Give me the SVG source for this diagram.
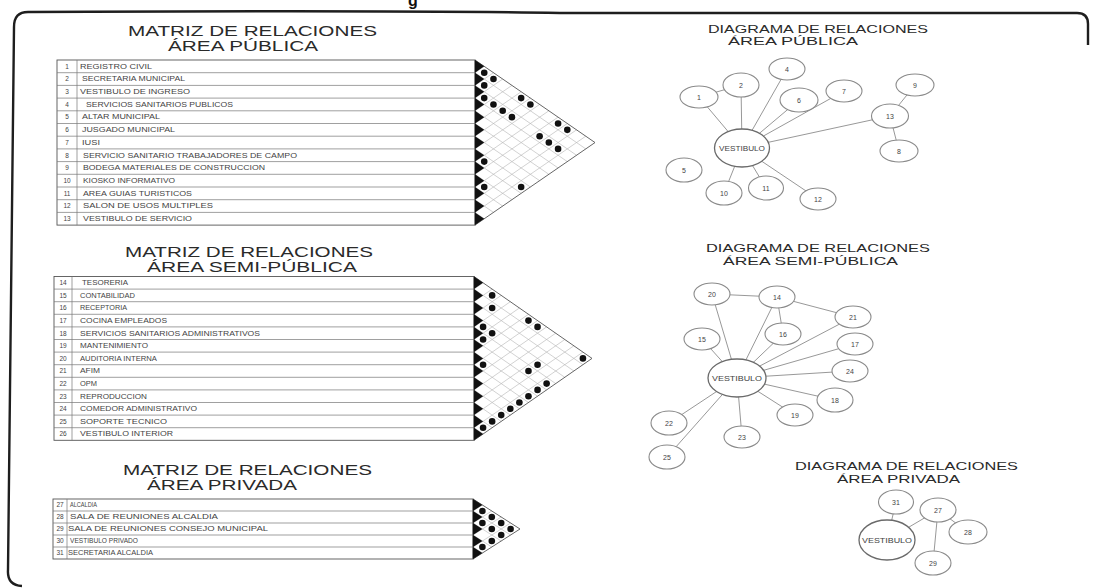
<svg xmlns="http://www.w3.org/2000/svg" width="1093" height="588" viewBox="0 0 1093 588">
<style>
.t{font-family:"Liberation Sans",Arial,sans-serif}
.ttl{font-size:15px;fill:#2a2a2a}
.dt{font-size:10.5px;fill:#2a2a2a}
.row{font-size:6.5px;fill:#444}
.num{font-size:6.5px;fill:#444;text-anchor:middle}
.tbl{fill:none;stroke:#555;stroke-width:0.9}
.rl{stroke:#777;stroke-width:0.7;fill:none}
.grid{stroke:#b4b4b4;stroke-width:0.6;fill:none}
.tri{fill:none;stroke:#555;stroke-width:0.9}
.blk{fill:#111}
.dot{fill:#111}
.nd{fill:#fff;stroke:#8a8a8a;stroke-width:1.1}
.vn{fill:#fff;stroke:#6a6a6a;stroke-width:1.3}
.nl{font-size:7px;fill:#444;text-anchor:middle}
.ed{stroke:#8c8c8c;stroke-width:0.9}
</style>
<rect width="1093" height="588" fill="#fff"/>
<!-- frame -->
<path d="M1088 45 L1088 24 Q1088 13 1077 13 L560 13 Q400 10 28 12 Q14 12 14 27 L8 570 Q7 585 22 586" fill="none" stroke="#1e1e1e" stroke-width="2.4"/>
<text class="t" x="408" y="6" font-size="16" font-weight="bold" fill="#111">g</text>

<!-- ===== MATRIZ AREA PUBLICA ===== -->
<g id="matriz-publica">
<text class="t ttl" x="128" y="36" textLength="249" lengthAdjust="spacingAndGlyphs">MATRIZ DE RELACIONES</text>
<text class="t ttl" x="168" y="51" textLength="150" lengthAdjust="spacingAndGlyphs">ÁREA PÚBLICA</text>
<rect class="tbl" x="57" y="60" width="418" height="165.1"/>
<path class="rl" d="M57 72.7H475M57 85.4H475M57 98.1H475M57 110.8H475M57 123.5H475M57 136.2H475M57 148.9H475M57 161.6H475M57 174.3H475M57 187H475M57 199.7H475M57 212.4H475M77 60V225.1"/>
<g class="t num">
<text x="67" y="68.6">1</text><text x="67" y="81.3">2</text><text x="67" y="94">3</text><text x="67" y="106.7">4</text><text x="67" y="119.4">5</text><text x="67" y="132.1">6</text><text x="67" y="144.8">7</text><text x="67" y="157.5">8</text><text x="67" y="170.2">9</text><text x="67" y="182.9">10</text><text x="67" y="195.6">11</text><text x="67" y="208.3">12</text><text x="67" y="221">13</text>
</g>
<g class="t row">
<text x="80" y="68.6" textLength="72" lengthAdjust="spacingAndGlyphs">REGISTRO CIVIL</text>
<text x="82" y="81.3" textLength="103" lengthAdjust="spacingAndGlyphs">SECRETARIA MUNICIPAL</text>
<text x="80" y="94" textLength="110" lengthAdjust="spacingAndGlyphs">VESTIBULO DE INGRESO</text>
<text x="86" y="106.7" textLength="147" lengthAdjust="spacingAndGlyphs">SERVICIOS SANITARIOS PUBLICOS</text>
<text x="82" y="119.4" textLength="78" lengthAdjust="spacingAndGlyphs">ALTAR MUNICIPAL</text>
<text x="82" y="132.1" textLength="93" lengthAdjust="spacingAndGlyphs">JUSGADO MUNICIPAL</text>
<text x="82" y="144.8" textLength="18" lengthAdjust="spacingAndGlyphs">IUSI</text>
<text x="83" y="157.5" textLength="214" lengthAdjust="spacingAndGlyphs">SERVICIO SANITARIO TRABAJADORES DE CAMPO</text>
<text x="83" y="170.2" textLength="182" lengthAdjust="spacingAndGlyphs">BODEGA MATERIALES DE CONSTRUCCION</text>
<text x="83" y="182.9" textLength="92" lengthAdjust="spacingAndGlyphs">KIOSKO INFORMATIVO</text>
<text x="83" y="195.6" textLength="109" lengthAdjust="spacingAndGlyphs">AREA GUIAS TURISTICOS</text>
<text x="83" y="208.3" textLength="130" lengthAdjust="spacingAndGlyphs">SALON DE USOS MULTIPLES</text>
<text x="83" y="221" textLength="109" lengthAdjust="spacingAndGlyphs">VESTIBULO DE SERVICIO</text>
</g>
<path class="grid" d="M475 72.7L585.77 148.9M475 85.4L576.54 155.25M475 98.1L567.31 161.6M475 110.8L558.08 167.95M475 123.5L548.85 174.3M475 136.2L539.62 180.65M475 148.9L530.38 187M475 161.6L521.15 193.35M475 174.3L511.92 199.7M475 187L502.69 206.05M475 199.7L493.46 212.4M475 212.4L484.23 218.75M475 72.7L484.23 66.35M475 85.4L493.46 72.7M475 98.1L502.69 79.05M475 110.8L511.92 85.4M475 123.5L521.15 91.75M475 136.2L530.38 98.1M475 148.9L539.62 104.45M475 161.6L548.85 110.8M475 174.3L558.08 117.15M475 187L567.31 123.5M475 199.7L576.54 129.85M475 212.4L585.77 136.2"/>
<path class="tri" d="M475 60L595 142.55L475 225.1Z"/>
<path class="blk" d="M475 60l9.23 6.35l-9.23 6.35zm0 12.7l9.23 6.35l-9.23 6.35zm0 12.7l9.23 6.35l-9.23 6.35zm0 12.7l9.23 6.35l-9.23 6.35zm0 12.7l9.23 6.35l-9.23 6.35zm0 12.7l9.23 6.35l-9.23 6.35zm0 12.7l9.23 6.35l-9.23 6.35zm0 12.7l9.23 6.35l-9.23 6.35zm0 12.7l9.23 6.35l-9.23 6.35zm0 12.7l9.23 6.35l-9.23 6.35zm0 12.7l9.23 6.35l-9.23 6.35zm0 12.7l9.23 6.35l-9.23 6.35zm0 12.7l9.23 6.35l-9.23 6.35z"/>
<g class="dot">
<circle cx="484.23" cy="72.7" r="3.3"/><circle cx="493.46" cy="79.05" r="3.3"/><circle cx="484.23" cy="85.4" r="3.3"/><circle cx="484.23" cy="98.1" r="3.3"/><circle cx="493.46" cy="104.45" r="3.3"/><circle cx="521.15" cy="98.1" r="3.3"/><circle cx="530.38" cy="104.45" r="3.3"/><circle cx="502.69" cy="110.8" r="3.3"/><circle cx="511.92" cy="117.15" r="3.3"/><circle cx="558.08" cy="123.5" r="3.3"/><circle cx="567.31" cy="129.85" r="3.3"/><circle cx="539.62" cy="136.2" r="3.3"/><circle cx="548.85" cy="142.55" r="3.3"/><circle cx="558.08" cy="148.9" r="3.3"/><circle cx="484.23" cy="161.6" r="3.3"/><circle cx="484.23" cy="187" r="3.3"/><circle cx="521.15" cy="187" r="3.3"/>
</g>
</g>

<!-- ===== MATRIZ AREA SEMI-PUBLICA ===== -->
<g id="matriz-semipublica">
<text class="t ttl" x="125" y="257" textLength="248" lengthAdjust="spacingAndGlyphs">MATRIZ DE RELACIONES</text>
<text class="t ttl" x="147" y="272" textLength="210" lengthAdjust="spacingAndGlyphs">ÁREA SEMI-PÚBLICA</text>
<rect class="tbl" x="54" y="276.5" width="420" height="163.8"/>
<path class="rl" d="M54 289.1H474M54 301.7H474M54 314.3H474M54 326.9H474M54 339.5H474M54 352.1H474M54 364.7H474M54 377.3H474M54 389.9H474M54 402.5H474M54 415.1H474M54 427.7H474M72 276.5V440.3"/>
<g class="t num">
<text x="63" y="285.1">14</text><text x="63" y="297.7">15</text><text x="63" y="310.3">16</text><text x="63" y="322.9">17</text><text x="63" y="335.5">18</text><text x="63" y="348.1">19</text><text x="63" y="360.7">20</text><text x="63" y="373.3">21</text><text x="63" y="385.9">22</text><text x="63" y="398.5">23</text><text x="63" y="411.1">24</text><text x="63" y="423.7">25</text><text x="63" y="436.3">26</text>
</g>
<g class="t row">
<text x="82" y="285.1" textLength="46" lengthAdjust="spacingAndGlyphs">TESORERIA</text>
<text x="80" y="297.7" textLength="55" lengthAdjust="spacingAndGlyphs">CONTABILIDAD</text>
<text x="80" y="310.3" textLength="47" lengthAdjust="spacingAndGlyphs">RECEPTORIA</text>
<text x="80" y="322.9" textLength="87" lengthAdjust="spacingAndGlyphs">COCINA EMPLEADOS</text>
<text x="80" y="335.5" textLength="180" lengthAdjust="spacingAndGlyphs">SERVICIOS SANITARIOS ADMINISTRATIVOS</text>
<text x="80" y="348.1" textLength="68" lengthAdjust="spacingAndGlyphs">MANTENIMIENTO</text>
<text x="80" y="360.7" textLength="77" lengthAdjust="spacingAndGlyphs">AUDITORIA INTERNA</text>
<text x="80" y="373.3" textLength="20" lengthAdjust="spacingAndGlyphs">AFIM</text>
<text x="80" y="385.9" textLength="17" lengthAdjust="spacingAndGlyphs">OPM</text>
<text x="80" y="398.5" textLength="67" lengthAdjust="spacingAndGlyphs">REPRODUCCION</text>
<text x="80" y="411.1" textLength="117" lengthAdjust="spacingAndGlyphs">COMEDOR ADMINISTRATIVO</text>
<text x="80" y="423.7" textLength="87" lengthAdjust="spacingAndGlyphs">SOPORTE TECNICO</text>
<text x="80" y="436.3" textLength="93" lengthAdjust="spacingAndGlyphs">VESTIBULO INTERIOR</text>
</g>
<path class="grid" d="M474 289.1L582.92 364.7M474 301.7L573.85 371M474 314.3L564.77 377.3M474 326.9L555.69 383.6M474 339.5L546.62 389.9M474 352.1L537.54 396.2M474 364.7L528.46 402.5M474 377.3L519.38 408.8M474 389.9L510.31 415.1M474 402.5L501.23 421.4M474 415.1L492.15 427.7M474 427.7L483.08 434M474 289.1L483.08 282.8M474 301.7L492.15 289.1M474 314.3L501.23 295.4M474 326.9L510.31 301.7M474 339.5L519.38 308M474 352.1L528.46 314.3M474 364.7L537.54 320.6M474 377.3L546.62 326.9M474 389.9L555.69 333.2M474 402.5L564.77 339.5M474 415.1L573.85 345.8M474 427.7L582.92 352.1"/>
<path class="tri" d="M474 276.5L592 358.4L474 440.3Z"/>
<path class="blk" d="M474 276.5l9.08 6.3l-9.08 6.3zm0 12.6l9.08 6.3l-9.08 6.3zm0 12.6l9.08 6.3l-9.08 6.3zm0 12.6l9.08 6.3l-9.08 6.3zm0 12.6l9.08 6.3l-9.08 6.3zm0 12.6l9.08 6.3l-9.08 6.3zm0 12.6l9.08 6.3l-9.08 6.3zm0 12.6l9.08 6.3l-9.08 6.3zm0 12.6l9.08 6.3l-9.08 6.3zm0 12.6l9.08 6.3l-9.08 6.3zm0 12.6l9.08 6.3l-9.08 6.3zm0 12.6l9.08 6.3l-9.08 6.3zm0 12.6l9.08 6.3l-9.08 6.3z"/>
<g class="dot">
<circle cx="492.15" cy="295.4" r="3.3"/><circle cx="492.15" cy="308" r="3.3"/><circle cx="528.46" cy="320.6" r="3.3"/><circle cx="537.54" cy="326.9" r="3.3"/><circle cx="483.08" cy="326.9" r="3.3"/><circle cx="492.15" cy="333.2" r="3.3"/><circle cx="483.08" cy="339.5" r="3.3"/><circle cx="483.08" cy="364.7" r="3.3"/><circle cx="537.54" cy="364.7" r="3.3"/><circle cx="528.46" cy="371" r="3.3"/><circle cx="582.92" cy="358.4" r="3.3"/><circle cx="546.62" cy="383.6" r="3.3"/><circle cx="537.54" cy="389.9" r="3.3"/><circle cx="528.46" cy="396.2" r="3.3"/><circle cx="519.38" cy="402.5" r="3.3"/><circle cx="510.31" cy="408.8" r="3.3"/><circle cx="501.23" cy="415.1" r="3.3"/><circle cx="492.15" cy="421.4" r="3.3"/><circle cx="483.08" cy="427.7" r="3.3"/>
</g>
</g>

<!-- ===== MATRIZ AREA PRIVADA ===== -->
<g id="matriz-privada">
<text class="t ttl" x="123" y="475" textLength="249" lengthAdjust="spacingAndGlyphs">MATRIZ DE RELACIONES</text>
<text class="t ttl" x="147" y="490" textLength="150" lengthAdjust="spacingAndGlyphs">ÁREA PRIVADA</text>
<rect class="tbl" x="53" y="499" width="420" height="60"/>
<path class="rl" d="M53 511H473M53 523H473M53 535H473M53 547H473M67 499V559"/>
<g class="t num">
<text x="60" y="507.3">27</text><text x="60" y="519.3">28</text><text x="60" y="531.3">29</text><text x="60" y="543.3">30</text><text x="60" y="555.3">31</text>
</g>
<g class="t row">
<text x="70" y="507.3" textLength="27" lengthAdjust="spacingAndGlyphs">ALCALDIA</text>
<text x="70" y="519.3" textLength="148" lengthAdjust="spacingAndGlyphs">SALA DE REUNIONES ALCALDIA</text>
<text x="68" y="531.3" textLength="200" lengthAdjust="spacingAndGlyphs">SALA DE REUNIONES CONSEJO MUNICIPAL</text>
<text x="70" y="543.3" textLength="68" lengthAdjust="spacingAndGlyphs">VESTIBULO PRIVADO</text>
<text x="68" y="555.3" textLength="85" lengthAdjust="spacingAndGlyphs">SECRETARIA ALCALDIA</text>
</g>
<path class="grid" d="M473 511L510.6 535M473 523L501.2 541M473 535L491.8 547M473 547L482.4 553M473 511L482.4 505M473 523L491.8 511M473 535L501.2 517M473 547L510.6 523"/>
<path class="tri" d="M473 499L520 529L473 559Z"/>
<path class="blk" d="M473 499l9.4 6l-9.4 6zm0 12l9.4 6l-9.4 6zm0 12l9.4 6l-9.4 6zm0 12l9.4 6l-9.4 6zm0 12l9.4 6l-9.4 6z"/>
<g class="dot">
<circle cx="482.4" cy="511" r="3.3"/><circle cx="491.8" cy="517" r="3.3"/><circle cx="482.4" cy="523" r="3.3"/><circle cx="501.2" cy="523" r="3.3"/><circle cx="491.8" cy="529" r="3.3"/><circle cx="510.6" cy="529" r="3.3"/><circle cx="501.2" cy="535" r="3.3"/><circle cx="491.8" cy="541" r="3.3"/><circle cx="482.4" cy="547" r="3.3"/>
</g>
</g>

<!-- ===== DIAGRAM TITLES ===== -->
<text class="t dt" x="708" y="33" textLength="220" lengthAdjust="spacingAndGlyphs">DIAGRAMA DE RELACIONES</text>
<text class="t dt" x="728" y="45" textLength="130" lengthAdjust="spacingAndGlyphs">ÁREA PÚBLICA</text>
<text class="t dt" x="706" y="252" textLength="224" lengthAdjust="spacingAndGlyphs">DIAGRAMA DE RELACIONES</text>
<text class="t dt" x="723" y="265" textLength="175" lengthAdjust="spacingAndGlyphs">ÁREA SEMI-PÚBLICA</text>
<text class="t dt" x="795" y="470" textLength="223" lengthAdjust="spacingAndGlyphs">DIAGRAMA DE RELACIONES</text>
<text class="t dt" x="837" y="483" textLength="123" lengthAdjust="spacingAndGlyphs">ÁREA PRIVADA</text>

<!-- ===== CONNECTORS ===== -->
<g id="connectors" class="ed">
<line x1="699" y1="97" x2="742" y2="148"/>
<line x1="699" y1="97" x2="741" y2="85"/>
<line x1="741" y1="85" x2="742" y2="148"/>
<line x1="787" y1="69" x2="742" y2="148"/>
<line x1="799" y1="100" x2="742" y2="148"/>
<line x1="844" y1="91" x2="742" y2="148"/>
<line x1="890" y1="116" x2="742" y2="148"/>
<line x1="890" y1="116" x2="915" y2="85"/>
<line x1="890" y1="116" x2="899" y2="151"/>
<line x1="742" y1="148" x2="724" y2="193"/>
<line x1="742" y1="148" x2="766" y2="188"/>
<line x1="742" y1="148" x2="818" y2="199"/>

<line x1="712" y1="294" x2="777" y2="297"/>
<line x1="712" y1="294" x2="737" y2="378"/>
<line x1="777" y1="297" x2="737" y2="378"/>
<line x1="777" y1="297" x2="783" y2="334"/>
<line x1="777" y1="297" x2="853" y2="317"/>
<line x1="783" y1="334" x2="737" y2="378"/>
<line x1="853" y1="317" x2="737" y2="378"/>
<line x1="855" y1="344" x2="737" y2="378"/>
<line x1="850" y1="371" x2="737" y2="378"/>
<line x1="835" y1="400" x2="737" y2="378"/>
<line x1="795" y1="415" x2="737" y2="378"/>
<line x1="742" y1="437" x2="737" y2="378"/>
<line x1="669" y1="423" x2="737" y2="378"/>
<line x1="667" y1="457" x2="737" y2="378"/>
<line x1="702" y1="339" x2="737" y2="378"/>

<line x1="896" y1="502" x2="887" y2="540"/>
<line x1="938" y1="510" x2="887" y2="540"/>
<line x1="938" y1="510" x2="968" y2="532"/>
<line x1="938" y1="510" x2="933" y2="563"/>
</g>

<!-- ===== NODES: AREA PUBLICA ===== -->
<g id="p-1"><ellipse class="nd" cx="699" cy="97" rx="19" ry="11"/><text class="t nl" x="699" y="99.5">1</text></g>
<g id="p-2"><ellipse class="nd" cx="741" cy="85" rx="18" ry="12"/><text class="t nl" x="741" y="87.5">2</text></g>
<g id="p-4"><ellipse class="nd" cx="787" cy="69" rx="18" ry="11"/><text class="t nl" x="787" y="71.5">4</text></g>
<g id="p-6"><ellipse class="nd" cx="799" cy="100" rx="19" ry="12"/><text class="t nl" x="799" y="102.5">6</text></g>
<g id="p-7"><ellipse class="nd" cx="844" cy="91" rx="18" ry="11"/><text class="t nl" x="844" y="93.5">7</text></g>
<g id="p-9"><ellipse class="nd" cx="915" cy="85" rx="19" ry="11"/><text class="t nl" x="915" y="87.5">9</text></g>
<g id="p-13"><ellipse class="nd" cx="890" cy="116" rx="18.5" ry="12"/><text class="t nl" x="890" y="118.5">13</text></g>
<g id="p-8"><ellipse class="nd" cx="899" cy="151" rx="19" ry="11"/><text class="t nl" x="899" y="153.5">8</text></g>
<g id="p-vestibulo"><ellipse class="vn" cx="742" cy="148" rx="27.5" ry="19"/><text class="t nl" x="742" y="150.5" textLength="46" lengthAdjust="spacingAndGlyphs">VESTIBULO</text></g>
<g id="p-5"><ellipse class="nd" cx="684" cy="170" rx="18" ry="12"/><text class="t nl" x="684" y="172.5">5</text></g>
<g id="p-10"><ellipse class="nd" cx="724" cy="193" rx="18" ry="12"/><text class="t nl" x="724" y="195.5">10</text></g>
<g id="p-11"><ellipse class="nd" cx="766" cy="188" rx="17.5" ry="12"/><text class="t nl" x="766" y="190.5">11</text></g>
<g id="p-12"><ellipse class="nd" cx="818" cy="199" rx="18" ry="11"/><text class="t nl" x="818" y="201.5">12</text></g>

<!-- ===== NODES: AREA SEMI-PUBLICA ===== -->
<g id="s-20"><ellipse class="nd" cx="712" cy="294" rx="18" ry="11"/><text class="t nl" x="712" y="296.5">20</text></g>
<g id="s-14"><ellipse class="nd" cx="777" cy="297" rx="18" ry="11"/><text class="t nl" x="777" y="299.5">14</text></g>
<g id="s-21"><ellipse class="nd" cx="853" cy="317" rx="18" ry="11"/><text class="t nl" x="853" y="319.5">21</text></g>
<g id="s-15"><ellipse class="nd" cx="702" cy="339" rx="18" ry="11"/><text class="t nl" x="702" y="341.5">15</text></g>
<g id="s-16"><ellipse class="nd" cx="783" cy="334" rx="18" ry="11"/><text class="t nl" x="783" y="336.5">16</text></g>
<g id="s-17"><ellipse class="nd" cx="855" cy="344" rx="18" ry="11"/><text class="t nl" x="855" y="346.5">17</text></g>
<g id="s-24"><ellipse class="nd" cx="850" cy="371" rx="18" ry="11"/><text class="t nl" x="850" y="373.5">24</text></g>
<g id="s-vestibulo"><ellipse class="vn" cx="737" cy="378" rx="29" ry="19"/><text class="t nl" x="737" y="380.5" textLength="50" lengthAdjust="spacingAndGlyphs">VESTIBULO</text></g>
<g id="s-18"><ellipse class="nd" cx="835" cy="400" rx="18" ry="12"/><text class="t nl" x="835" y="402.5">18</text></g>
<g id="s-19"><ellipse class="nd" cx="795" cy="415" rx="18" ry="11"/><text class="t nl" x="795" y="417.5">19</text></g>
<g id="s-22"><ellipse class="nd" cx="669" cy="423" rx="18" ry="12"/><text class="t nl" x="669" y="425.5">22</text></g>
<g id="s-23"><ellipse class="nd" cx="742" cy="437" rx="18" ry="11"/><text class="t nl" x="742" y="439.5">23</text></g>
<g id="s-25"><ellipse class="nd" cx="667" cy="457" rx="18" ry="12"/><text class="t nl" x="667" y="459.5">25</text></g>

<!-- ===== NODES: AREA PRIVADA ===== -->
<g id="v-31"><ellipse class="nd" cx="896" cy="502" rx="17.5" ry="12"/><text class="t nl" x="896" y="504.5">31</text></g>
<g id="v-27"><ellipse class="nd" cx="938" cy="510" rx="18" ry="12"/><text class="t nl" x="938" y="512.5">27</text></g>
<g id="v-28"><ellipse class="nd" cx="968" cy="532" rx="19" ry="12"/><text class="t nl" x="968" y="534.5">28</text></g>
<g id="v-vestibulo"><ellipse class="vn" cx="887" cy="540" rx="28" ry="20"/><text class="t nl" x="887" y="542.5" textLength="50" lengthAdjust="spacingAndGlyphs">VESTIBULO</text></g>
<g id="v-29"><ellipse class="nd" cx="933" cy="563" rx="18" ry="12"/><text class="t nl" x="933" y="565.5">29</text></g>
</svg>
